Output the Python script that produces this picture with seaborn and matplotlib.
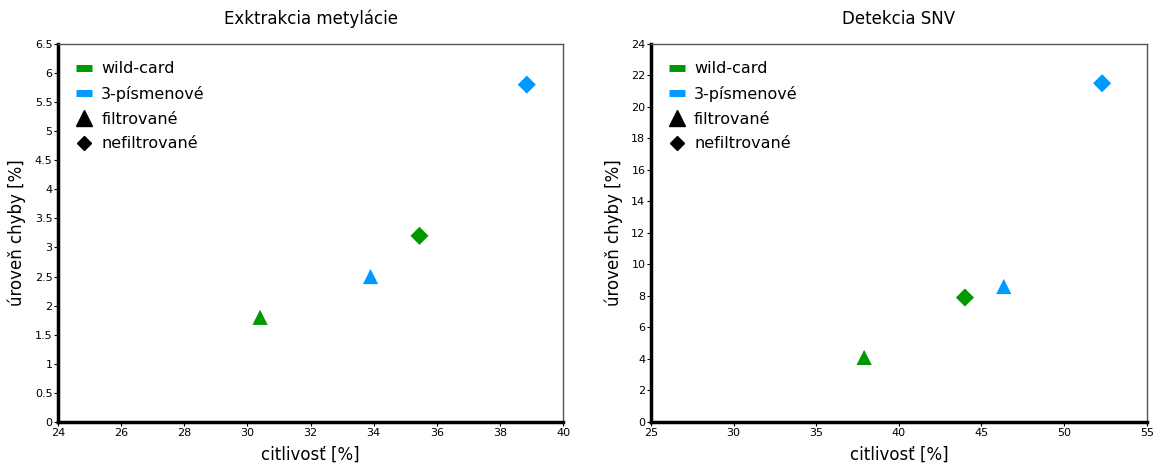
import pandas as pd
import seaborn as sns
import matplotlib.pyplot as plt
from matplotlib.lines import Line2D

# hodnoty odcitane z grafu
skupina = ['wild-card', '3-písmenové', 'wild-card', '3-písmenové']
typ = ['filtrované', 'filtrované', 'nefiltrované', 'nefiltrované']
met_citlivost = [30.4, 33.9, 35.45, 38.85]
met_chyba = [1.8, 2.5, 3.2, 5.8]
snv_citlivost = [37.9, 46.35, 44.0, 52.3]
snv_chyba = [4.1, 8.6, 7.9, 21.5]

farby = {'wild-card': '#009900', '3-písmenové': '#0099ff'}
znacky = {'filtrované': '^', 'nefiltrované': 'D'}
velkosti = {'filtrované': 120, 'nefiltrované': 85}

sns.set_style('white')
plt.rcParams['font.family'] = ['DejaVu Sans']
plt.rcParams['text.color'] = 'black'
plt.rcParams['axes.labelcolor'] = 'black'
plt.rcParams['xtick.color'] = 'black'
plt.rcParams['ytick.color'] = 'black'

fig = plt.figure(figsize=(11.61, 4.75), dpi=100)
ax1 = fig.add_axes([0.05, 0.1116, 0.435, 0.796])
ax2 = fig.add_axes([0.5607, 0.1116, 0.427, 0.796])

panely = [
    (ax1, met_citlivost, met_chyba, 'Exktrakcia metylácie', (24, 40, 2), (0, 6.5, 0.5)),
    (ax2, snv_citlivost, snv_chyba, 'Detekcia SNV', (25, 55, 5), (0, 24, 2)),
]

for ax, x, y, nazov, xr, yr in panely:
    dados = pd.DataFrame({'x': x, 'y': y, 'skupina': skupina, 'typ': typ})
    sns.scatterplot(data=dados, x='x', y='y', hue='skupina', style='typ',
                    size='typ', sizes=velkosti,
                    palette=farby, markers=znacky, linewidth=0,
                    legend=False, ax=ax)
    ax.set_xlim(xr[0], xr[1])
    ax.set_ylim(yr[0], yr[1])
    xt = [xr[0] + i * xr[2] for i in range(int(round((xr[1] - xr[0]) / xr[2])) + 1)]
    yt = [round(yr[0] + i * yr[2], 1) for i in range(int(round((yr[1] - yr[0]) / yr[2])) + 1)]
    ax.set_xticks(xt)
    ax.set_yticks(yt)
    ax.set_xticklabels([f'{v:g}' for v in xt])
    ax.set_yticklabels([f'{v:g}' for v in yt])
    ax.tick_params(axis='both', labelsize=8, length=3, width=0.8, direction='out',
                   left=True, bottom=True, pad=1)
    ax.set_xlabel('citlivosť [%]', fontsize=12, labelpad=6)
    ax.set_ylabel('úroveň chyby [%]', fontsize=12, labelpad=6)
    ax.set_title(nazov, fontsize=12, pad=14)
    for s in ['left', 'bottom']:
        ax.spines[s].set_linewidth(2.5)
        ax.spines[s].set_color('black')
    for s in ['top', 'right']:
        ax.spines[s].set_linewidth(1)
        ax.spines[s].set_color('#555555')

    handles = [
        Line2D([], [], color=farby['wild-card'], lw=5, solid_capstyle='butt'),
        Line2D([], [], color=farby['3-písmenové'], lw=5, solid_capstyle='butt'),
        Line2D([], [], marker='^', color='black', lw=0, markersize=11),
        Line2D([], [], marker='D', color='black', lw=0, markersize=7),
    ]
    ax.legend(handles, ['wild-card', '3-písmenové', 'filtrované', 'nefiltrované'],
              loc='upper left', frameon=False, fontsize=11.5, handlelength=1.0,
              handletextpad=0.6, labelspacing=0.6, borderaxespad=0.7,
              labelcolor='black')

fig.savefig('out.png', dpi=100)
